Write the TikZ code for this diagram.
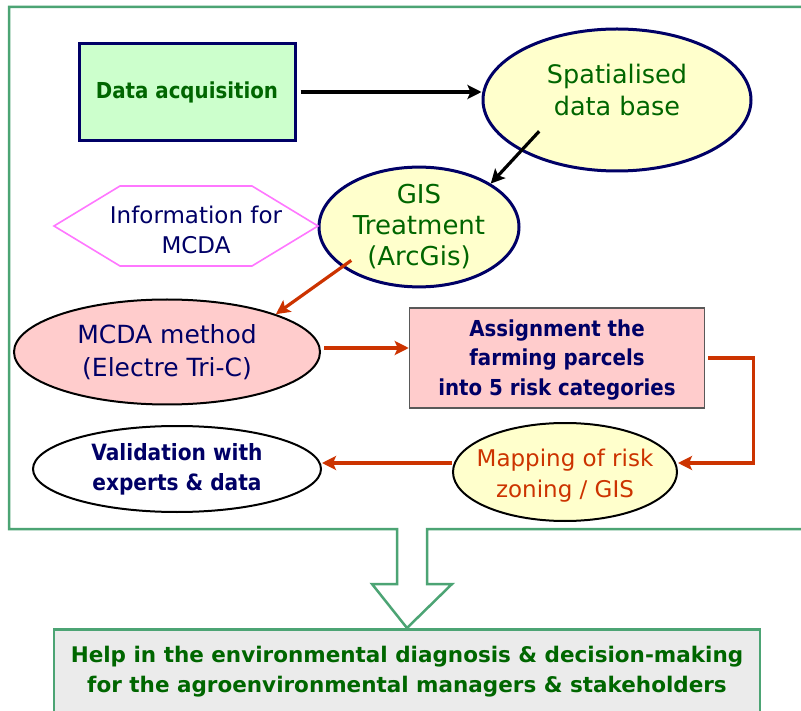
\documentclass[tikz,border=0pt]{standalone}
\usepackage{fontspec}
\setmainfont{DejaVu Sans}
\newfontfamily\condensed{DejaVu Sans Condensed}
\usetikzlibrary{shapes.geometric}
\usetikzlibrary{arrows.meta}
\definecolor{navy}{HTML}{000066}
\definecolor{leaf}{HTML}{006600}
\definecolor{rust}{HTML}{CC3300}
\definecolor{frame}{HTML}{4CA474}
\definecolor{mint}{HTML}{CCFFCC}
\definecolor{cream}{HTML}{FFFFCC}
\definecolor{rose}{HTML}{FFCCCC}
\definecolor{orchid}{HTML}{FF77FF}
\definecolor{mist}{HTML}{EBEBEB}
\tikzset{%
  blackarrow/.style = {-{Stealth[length=14pt,width=14pt,inset=3pt]},line width=3.2pt,black},
  redarrow/.style = {-{Stealth[length=14pt,width=14pt,inset=3pt]},line width=3.2pt,rust},
  b/.style = {rectangle,draw,align=center,inner sep=0pt},
  e/.style = {ellipse,draw,align=center,inner sep=0pt},
  hexa/.style = {draw=orchid,line width=1.6pt,fill=white}
}

\begin{document}
\begin{tikzpicture}[x=1pt,y=-1pt]
\useasboundingbox (0,0) rectangle (801,711);
\clip (0,0) rectangle (801,711);
\fill[white] (0,0) rectangle (801,711);
% boxes and ellipses
\node[b,draw=navy,line width=3pt,fill=mint,minimum width=216pt,minimum height=97pt,
      text=leaf,font=\condensed\bfseries\fontsize{22}{26}\selectfont] (acq) at (187,92) {Data acquisition};
\node[e,draw=navy,line width=3pt,fill=cream,minimum width=268pt,minimum height=142pt,
      label={[align=center,text=leaf,font=\fontsize{25.5}{32}\selectfont,yshift=10pt]center:{Spatialised\\data base}}]
      (base) at (617,100) {};
\node[e,draw=navy,line width=3pt,fill=cream,minimum width=200pt,minimum height=112pt,
      text=leaf,font=\fontsize{26}{31}\selectfont] (gis) at (419,227) {GIS\\Treatment\\(ArcGis)};
\draw[hexa] (54,226) -- (120,186) -- (252,186) -- (318,226) -- (252,266) -- (120,266) -- cycle;
\node[align=center,inner sep=0pt,text=navy,font=\fontsize{23}{30}\selectfont] (info) at (196,230)
      {Information for\\MCDA};
\node[e,line width=2pt,fill=rose,minimum width=306pt,minimum height=105pt,
      text=navy,font=\fontsize{25}{33}\selectfont] (mcda) at (167,352) {MCDA method\\(Electre Tri-C)};
\node[b,draw=black!65,line width=1.5pt,fill=rose,minimum width=295pt,minimum height=100pt,
      label={[align=center,text=navy,font=\condensed\bfseries\fontsize{22}{29.5}\selectfont,yshift=-2pt]center:{Assignment the\\farming parcels\\into 5 risk categories}}]
      (assign) at (557,358) {};
\node[e,line width=2pt,fill=cream,minimum width=224pt,minimum height=98pt,
      label={[align=center,text=rust,font=\fontsize{23}{31}\selectfont,yshift=-4pt]center:{Mapping of risk\\zoning / GIS}}]
      (map) at (565,472) {};
\node[e,line width=2pt,fill=white,minimum width=288pt,minimum height=86pt,
      text=navy,font=\condensed\bfseries\fontsize{22.4}{30}\selectfont] (valid) at (177,469) {Validation with\\experts \& data};
\node[b,draw=frame,line width=2.5pt,fill=mist,minimum width=706pt,minimum height=84pt,
      anchor=north,text=leaf,font=\bfseries\fontsize{21.5}{30}\selectfont] (help) at (407,628)
      {Help in the environmental diagnosis \& decision-making\\for the agroenvironmental managers \& stakeholders};
% frame with its big arrow
\draw[frame,line width=2.5pt,line join=miter] (397,529) -- (9,529) -- (9,7) -- (808,7) -- (808,529)
    -- (427,529) -- (427,584) -- (452,584) -- (help.north) -- (372,584) -- (397,584) -- cycle;
% connectors
\draw[blackarrow] (acq.east) ++(4,0) -- (base.west |- acq.east);
\draw[blackarrow] (base.south west) ++(18,-20) -- (gis.north east);
\draw[redarrow] (gis.south west) ++(4,-10) -- (mcda.north east);
\draw[redarrow] ([xshift=3pt,yshift=4pt]mcda.east) -- ([yshift=4pt]mcda.east -| assign.west);
\draw[redarrow] ([xshift=3pt]assign.east) -- ++(45,0) |- ([yshift=9pt]map.east);
\draw[redarrow] ([yshift=9pt]map.west) -- ([yshift=6pt]valid.east);
\end{tikzpicture}
\end{document}
